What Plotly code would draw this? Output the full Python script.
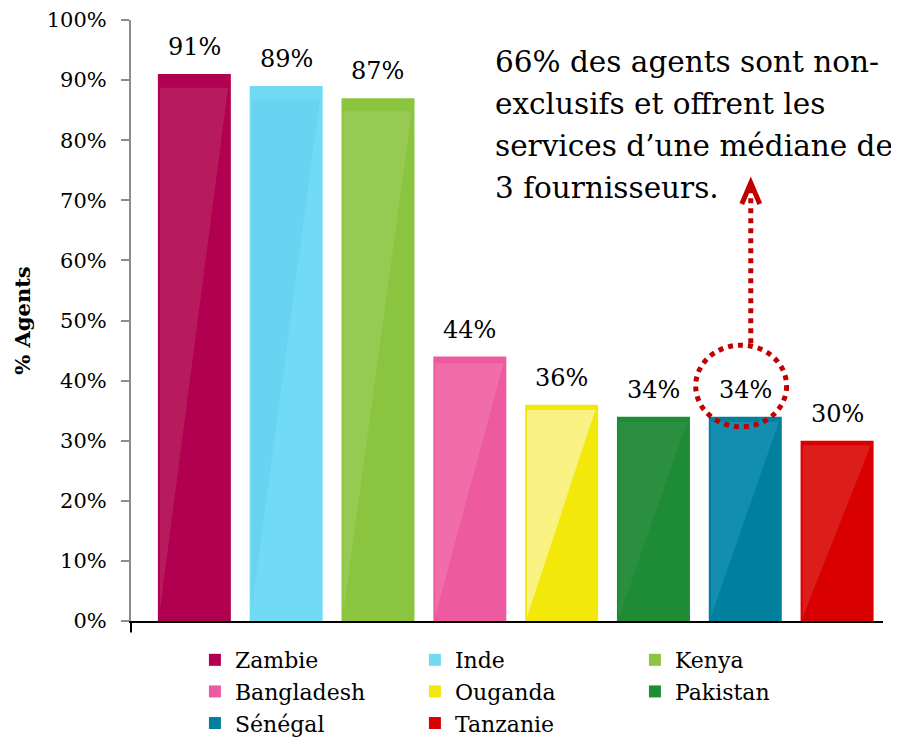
import plotly.graph_objects as go

countries = ["Zambie", "Inde", "Kenya", "Bangladesh", "Ouganda", "Pakistan", "Sénégal", "Tanzanie"]
values = [91, 89, 87, 44, 36, 34, 34, 30]
labels = ["91%", "89%", "87%", "44%", "36%", "34%", "34%", "30%"]
base_colors = ["#B0004F", "#71DBF6", "#8BC53F", "#EE5A9F", "#F2E80A", "#1E8B35", "#007F9F", "#D80000"]
gloss_colors = ["#B81A5E", "#69D4F2", "#97CA52", "#F06DAA", "#F9F283", "#2A903F", "#138DB0", "#DD1C1C"]
note_lines = ["66% des agents sont non-", "exclusifs et offrent les",
              "services d’une médiane de", "3 fournisseurs."]
y_ticks = list(range(0, 101, 10))
y_tick_text = [f"{t}%" for t in y_ticks]

FONT = "DejaVu Serif"
BAR_W = 0.795

fig = go.Figure()

for i, (c, v, col) in enumerate(zip(countries, values, base_colors)):
    fig.add_trace(go.Bar(x=[i], y=[v], width=[BAR_W], name=c, marker=dict(color=col, line=dict(width=0)),
                         hoverinfo="skip"))

# glossy overlay (derived from the data values)
for i, (v, gc) in enumerate(zip(values, gloss_colors)):
    L = i - BAR_W / 2 + 0.022
    R = i + BAR_W / 2 - 0.03
    top = v * 0.975
    fig.add_trace(go.Scatter(x=[L, R, L, L], y=[top, top, v * 0.02, top], mode="lines",
                             fill="toself", fillcolor=gc, line=dict(width=0),
                             showlegend=False, hoverinfo="skip"))

annotations = []
for i, (v, t) in enumerate(zip(values, labels)):
    annotations.append(dict(x=i, y=v, xref="x", yref="y", text=t, showarrow=False,
                            yanchor="bottom", yshift=11, font=dict(family=FONT, size=24, color="#000")))

for k, line in enumerate(note_lines):
    annotations.append(dict(x=(493 - 131) / 752, y=(621 - 62 - 42 * k) / 601, xref="paper", yref="paper",
                            text=line, showarrow=False, xanchor="left", yanchor="middle",
                            font=dict(family=FONT, size=29.5, color="#000")))

shapes = [
    dict(type="circle", xref="x", yref="y", x0=5.46, x1=6.45, y0=32.3, y1=45.9,
         line=dict(color="#C00000", width=5, dash="dot")),
    dict(type="line", xref="x", yref="y", x0=6.06, x1=6.06, y0=46.2, y1=72.3,
         line=dict(color="#C00000", width=5, dash="dot")),
    dict(type="path", xref="x", yref="y", path="M 5.962,69.4 L 6.06,72.9 L 6.158,69.4",
         line=dict(color="#C00000", width=5)),
    dict(type="line", xref="paper", yref="paper", x0=0, x1=0, y0=0, y1=-0.019,
         line=dict(color="#000", width=2)),
]

fig.update_layout(
    width=899, height=741,
    margin=dict(l=123, r=24, t=12, b=128, autoexpand=False),
    paper_bgcolor="white", plot_bgcolor="white",
    barmode="overlay",
    showlegend=True,
    legend=dict(orientation="h", x=0.085, y=-0.03, xanchor="left", yanchor="top",
                entrywidth=175, entrywidthmode="pixels", traceorder="normal",
                font=dict(family=FONT, size=22, color="#000"), itemsizing="constant",
                tracegroupgap=0),
    annotations=annotations,
    shapes=shapes,
    xaxis=dict(range=[-0.69, 7.5], showticklabels=False, showgrid=False, zeroline=False,
               showline=True, linecolor="#000", linewidth=2, ticks=""),
    yaxis=dict(range=[0, 100], tickmode="array", tickvals=y_ticks, ticktext=y_tick_text,
               showgrid=False, zeroline=False,
               showline=True, linecolor="#8c8c8c", linewidth=2, ticks="outside", ticklen=8,
               tickcolor="#8c8c8c", tickwidth=2, ticklabelstandoff=10,
               tickfont=dict(family=FONT, size=21, color="#000"),
               title=dict(text="<b>% Agents</b>", font=dict(family=FONT, size=21, color="#000"), standoff=10)),
)

fig.write_html("out.html")
